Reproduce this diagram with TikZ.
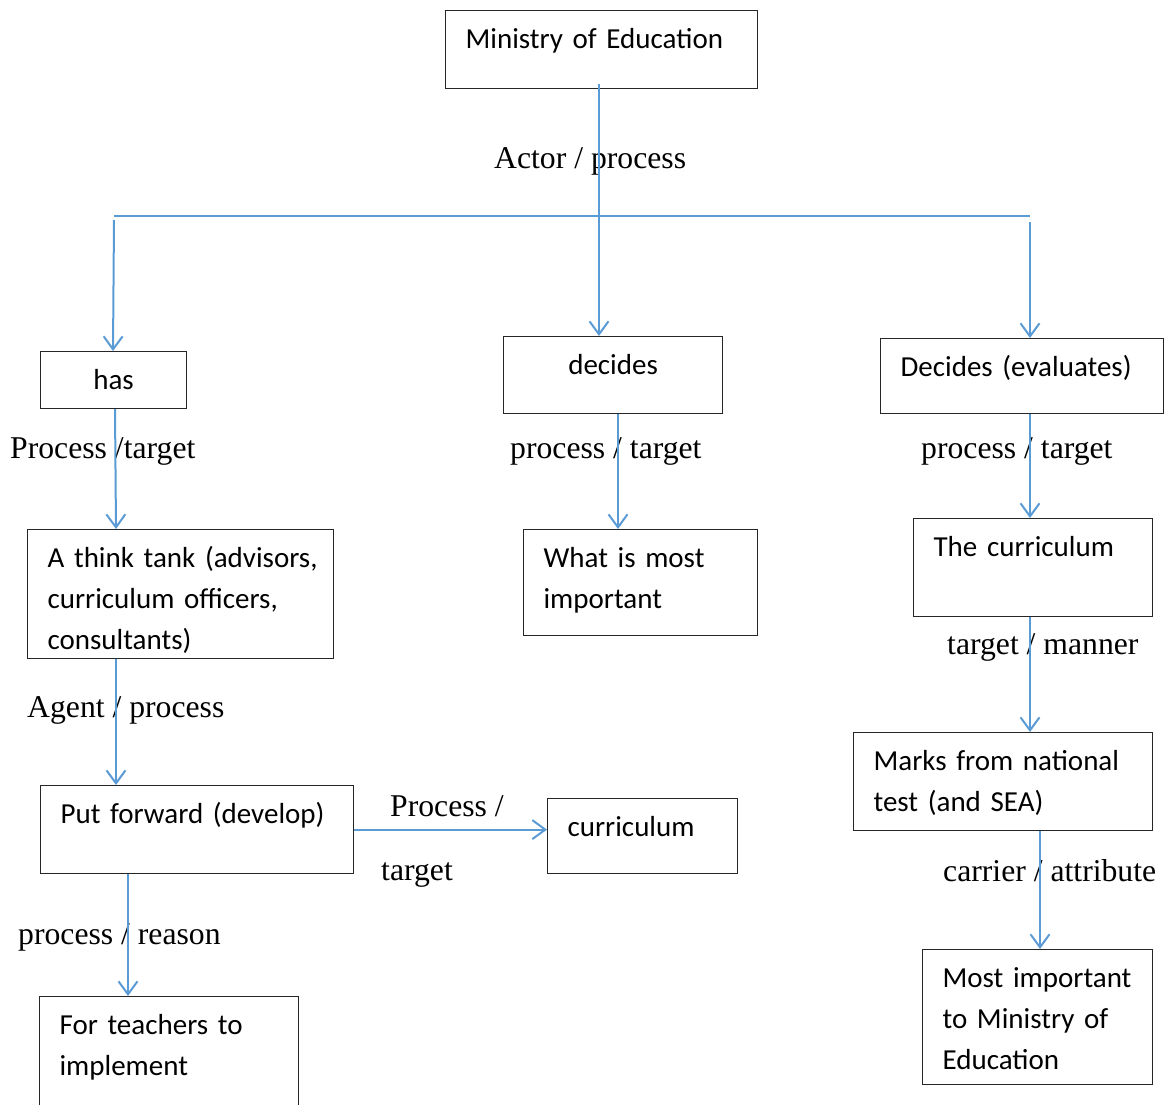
\documentclass[tikz,border=0pt]{standalone}
\usepackage{fontspec}
\setmainfont{Liberation Serif}
\newfontfamily\boxfont[WordSpace=0.75]{Carlito}
\usetikzlibrary{arrows.meta}
\definecolor{linkblue}{HTML}{5B9BD5}

\begin{document}
\begin{tikzpicture}[x=1pt,y=-1pt,
    box/.style={draw=black!85,line width=1.2pt,anchor=north west,inner xsep=20pt,inner ysep=0pt,
      align=left,text height=38pt,font=\boxfont\fontsize{29}{41}\selectfont},
    lbl/.style={anchor=base west,inner sep=0pt,font=\fontsize{31.7}{38}\selectfont},
    arr/.style={draw=linkblue,line width=2pt,-{Straight Barb[length=13pt,width=19pt]}},
    thin/.style={draw=linkblue,line width=1.2pt}]
  \useasboundingbox (0,0) rectangle (1164,1104);

  % boxes
  \node[box,text width=272pt,text depth=40pt] (min) at (445,10) {Ministry of Education};
  \node[box,align=center,text width=106pt,text depth=19pt] (has) at (40,351) {has};
  \node[box,align=center,text width=179pt,text depth=39pt] (decides) at (503,336) {decides};
  \node[box,text width=243pt,text depth=37pt] (deval) at (880,338) {\mbox{Decides (evaluates)}};
  \node[box,text width=266pt,text depth=91pt] (tank) at (27,529) {\mbox{A think tank (advisors,}\\curriculum officers,\\consultants)};
  \node[box,text width=194pt,text depth=68pt] (what) at (523,529) {What is most\\important};
  \node[box,text width=199pt,text depth=60pt] (thecurr) at (913,518) {The curriculum};
  \node[box,text width=259pt,text depth=60pt] (marks) at (853,732) {\mbox{Marks from national}\\test (and SEA)};
  \node[box,text width=273pt,text depth=50pt] (putfwd) at (40,785) {\mbox{Put forward (develop)}};
  \node[box,text width=150pt,text depth=37pt] (curr) at (547,798) {curriculum};
  \node[box,text width=219pt,text depth=81pt] (teach) at (39,996) {For teachers to\\implement};
  \node[box,text width=190pt,text depth=97pt] (most) at (922,949) {\mbox{Most important}\\to Ministry of\\Education};

  % labels
  \node[lbl] (l0) at (494,168) {Actor / process};
  \node[lbl] (l1) at (10,458) {Process /target};
  \node[lbl] (l2) at (510,458) {process / target};
  \node[lbl] (l3) at (921,458) {process / target};
  \node[lbl] (l4) at (27,717) {Agent / process};
  \node[lbl] (l5) at (390,816) {Process /};
  \node[lbl] (l6) at (381,880) {target};
  \node[lbl] (l7) at (18,944) {process / reason};
  \node[lbl] (l8) at (947,654) {target / manner};
  \node[lbl] (l9) at (943,881) {carrier / attribute};

  % connectors
  \coordinate (hub) at (599,216);
  \coordinate (lft) at (114,216);
  \coordinate (rgt) at (1030,216);
  \draw[thin] ([xshift=154pt,yshift=5pt]min.south west) -- (hub);
  \draw[thin] (lft) -- (rgt);
  \draw[arr] (hub) -- ([xshift=96pt]decides.north west);
  \draw[arr] ([yshift=-4pt]lft) -- ([xshift=73pt]has.north west);
  \draw[arr] ([yshift=-6pt]rgt) -- ([xshift=150pt]deval.north west);
  \draw[arr] ([xshift=75pt]has.south west) -- ([xshift=89pt]tank.north west);
  \draw[arr] ([xshift=115pt]decides.south west) -- ([xshift=95pt]what.north west);
  \draw[arr] ([xshift=150pt]deval.south west) -- ([xshift=117pt]thecurr.north west);
  \draw[arr] ([xshift=89pt]tank.south west) -- ([xshift=76pt]putfwd.north west);
  \draw[arr] (putfwd.east) -- (putfwd.east -| curr.west);
  \draw[arr] ([xshift=88pt]putfwd.south west) -- ([xshift=89pt]teach.north west);
  \draw[arr] ([xshift=117pt]thecurr.south west) -- ([xshift=177pt]marks.north west);
  \draw[arr] ([xshift=187pt]marks.south west) -- ([xshift=118pt]most.north west);
\end{tikzpicture}
\end{document}
